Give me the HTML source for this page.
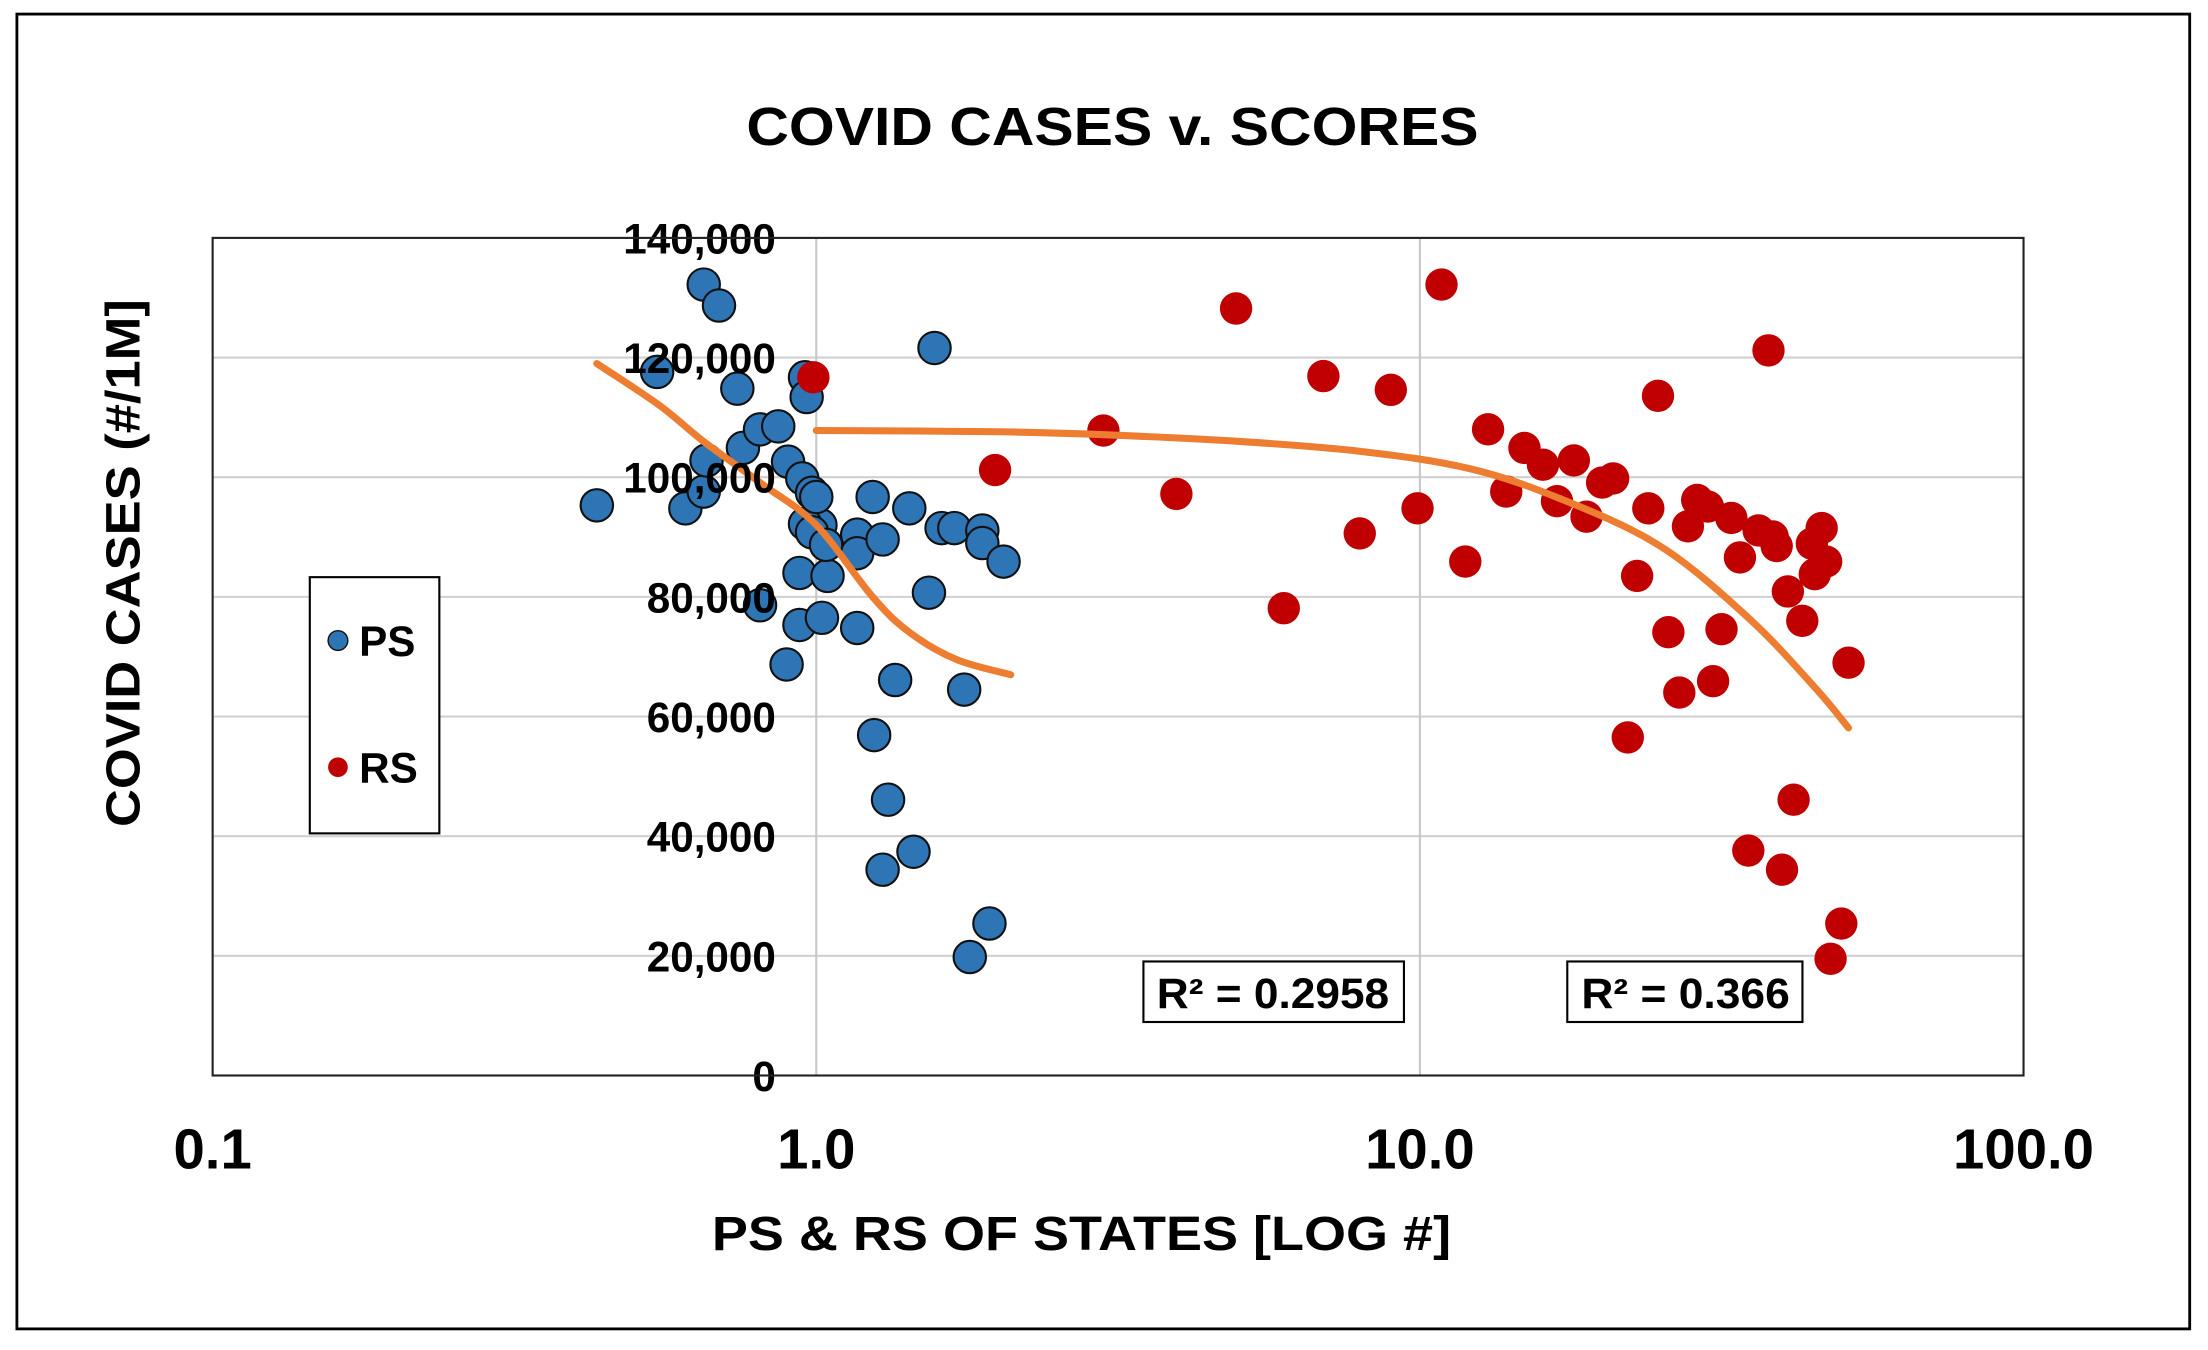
<!DOCTYPE html>
<html><head><meta charset="utf-8"><style>
html,body{margin:0;padding:0;background:#fff;}
svg{display:block;font-family:"Liberation Sans",Arial,sans-serif;}
</style></head><body>
<svg id="chart" width="2208" height="1350" viewBox="0 0 1568 959" preserveAspectRatio="none" xmlns="http://www.w3.org/2000/svg">
<rect x="12" y="10" width="1543" height="934" fill="#fff" stroke="#000" stroke-width="2"/>
<text x="790" y="103" text-anchor="middle" font-size="38" font-weight="bold" textLength="520" lengthAdjust="spacingAndGlyphs">COVID  CASES  v.  SCORES</text>
<g id="grid"></g>
<g id="dots"></g>
<g id="trends"></g>
<g id="labels"></g>
<rect x="151" y="169" width="1286" height="595" fill="none" stroke="#222" stroke-width="1.5"/>
<text transform="translate(99,400) rotate(-90)" text-anchor="middle" font-size="34" font-weight="bold" textLength="375" lengthAdjust="spacingAndGlyphs">COVID CASES (#/1M]</text>
<text x="768" y="888" text-anchor="middle" font-size="34" font-weight="bold" textLength="525" lengthAdjust="spacingAndGlyphs">PS &amp; RS OF STATES [LOG   #]</text>
<g>
<rect x="220" y="410" width="92" height="182" fill="#fff" stroke="#000" stroke-width="1.5"/>
<circle cx="240" cy="455" r="7" fill="#2e75b6" stroke="#111" stroke-width="1"/>
<text x="255" y="466" font-size="30" font-weight="bold">PS</text>
<circle cx="240" cy="545" r="7" fill="#c00000"/>
<text x="255" y="556" font-size="30" font-weight="bold">RS</text>
</g>
<g>
<rect x="812" y="683" width="185" height="43" fill="#fff" stroke="#000" stroke-width="1.5"/>
<text x="904" y="716" text-anchor="middle" font-size="30" font-weight="bold" textLength="165" lengthAdjust="spacingAndGlyphs">R² = 0.2958</text>
</g>
<g>
<rect x="1113" y="683" width="167" height="43" fill="#fff" stroke="#000" stroke-width="1.5"/>
<text x="1197" y="716" text-anchor="middle" font-size="30" font-weight="bold" textLength="148" lengthAdjust="spacingAndGlyphs">R² = 0.366</text>
</g>
</svg>
<script>
const psX=[0.433,0.545,0.651,0.690,0.607,0.651,0.658,0.740,0.756,0.807,0.865,0.898,0.948,0.984,0.958,0.964,1.016,0.958,0.938,1.044,0.938,1.022,0.893,0.807,1.240,1.426,1.169,1.169,1.288,1.169,1.537,1.613,1.693,1.884,1.884,2.043,1.570,1.351,1.758,1.247,1.315,1.449,1.288,1.936,1.796,0.984,1.038,1.0];
const psY=[95300,117600,132200,128700,94800,97600,102800,114800,104900,108000,108500,102600,99800,97400,116700,113400,92000,92200,84000,83500,75300,76500,68700,78600,96700,94800,90400,87300,89600,74800,80700,91500,91500,91100,89000,85900,121600,66100,64500,56900,46100,37400,34400,25400,19800,90800,88700,96700];
const rsX=[0.989,1.978,2.99,3.95,4.96,6.92,8.95,5.95,7.95,9.91,10.86,11.89,12.97,13.90,14.90,15.99,17.99,16.87,18.88,20.04,20.9,23.9,24.8,22.9,25.8,26.9,27.8,28.8,30.0,31.6,30.6,32.8,33.9,36.4,37.8,38.4,39.0,40.7,43.0,44.6,46.3,45.1,47.1,51.3,22.1,35.0,39.8,41.6,49.9,47.9];
const rsY=[116700,101200,107800,97200,128200,116900,114600,78100,90600,94800,132200,85900,108000,97600,104900,102100,102800,96000,93400,99100,99800,94800,113600,83500,74100,64000,91800,96200,95100,74600,65900,93200,86600,91100,121200,90100,88500,80900,76000,88900,91500,83800,85900,69000,56500,37600,34400,46100,25400,19500];
const psTrendX=[0.433,0.55,0.65,0.81,1.0,1.24,1.43,1.71,2.10];
const psTrendY=[119000,112000,106000,99000,92000,80000,74000,69500,67000];
const rsTrendX=[1.0,2,3,5,8,12,17,25,35,45,51.3];
const rsTrendY=[107800,107600,107100,106000,104300,101500,96500,88500,76500,65000,58100];
const yTicks=[0,20000,40000,60000,80000,100000,120000,140000];
const xTicks=[0.1,1,10,100];
const xTickLabels=["0.1","1.0","10.0","100.0"];

const NS="http://www.w3.org/2000/svg";
const L=151,R=1437,T=169,B=764;
function sx(v){return L+(Math.log10(v)+1)/3*(R-L);}
function sy(v){return B-v/140000*(B-T);}
function mk(tag,attrs,parent){const e=document.createElementNS(NS,tag);for(const k in attrs)e.setAttribute(k,attrs[k]);parent.appendChild(e);return e;}
const grid=document.getElementById('grid'),dots=document.getElementById('dots'),trends=document.getElementById('trends'),labels=document.getElementById('labels');
yTicks.forEach((v,i)=>{
  if(v>0&&v<140000){const g=mk('line',{x1:L,x2:R,y1:sy(v),y2:sy(v),stroke:'#d0d0d0','stroke-width':1.5},grid);
  
  }
  const t=mk('text',{x:551,y:sy(v)+11,'text-anchor':'end','font-size':30,'font-weight':'bold'},labels);
  
  
  t.textContent=v.toLocaleString('en-US');
});
xTicks.forEach((v,i)=>{
  if(v>0.1&&v<100){const g=mk('line',{x1:sx(v),x2:sx(v),y1:T,y2:B,stroke:'#c8c8c8','stroke-width':1.5},grid);
  
  }
  const t=mk('text',{x:sx(v),y:830,'text-anchor':'middle','font-size':40,'font-weight':'bold'},labels);
  
  
  t.textContent=xTickLabels[i];
});
psX.forEach((x,i)=>{
  const c=mk('circle',{cx:sx(x),cy:sy(psY[i]),r:11.5,fill:'#2e75b6',stroke:'#111','stroke-width':1.5},dots);
  
  
});
rsX.forEach((x,i)=>{
  const c=mk('circle',{cx:sx(x),cy:sy(rsY[i]),r:11.5,fill:'#c00000'},dots);
  
  
});
function path(xs,ys){
  const P=xs.map((x,i)=>[sx(x),sy(ys[i])]);
  let d='M'+P[0][0].toFixed(1)+','+P[0][1].toFixed(1);
  for(let i=0;i<P.length-1;i++){
    const p0=P[Math.max(0,i-1)],p1=P[i],p2=P[i+1],p3=P[Math.min(P.length-1,i+2)];
    const c1=[p1[0]+(p2[0]-p0[0])/6,p1[1]+(p2[1]-p0[1])/6];
    const c2=[p2[0]-(p3[0]-p1[0])/6,p2[1]-(p3[1]-p1[1])/6];
    d+=' C'+c1.map(v=>v.toFixed(1)).join(',')+' '+c2.map(v=>v.toFixed(1)).join(',')+' '+p2.map(v=>v.toFixed(1)).join(',');
  }
  return d;
}
const p1=mk('path',{d:path(psTrendX,psTrendY),fill:'none',stroke:'#ed7d31','stroke-width':5,'stroke-linecap':'round'},trends);


const p2=mk('path',{d:path(rsTrendX,rsTrendY),fill:'none',stroke:'#ed7d31','stroke-width':5,'stroke-linecap':'round'},trends);


</script>
</body></html>
